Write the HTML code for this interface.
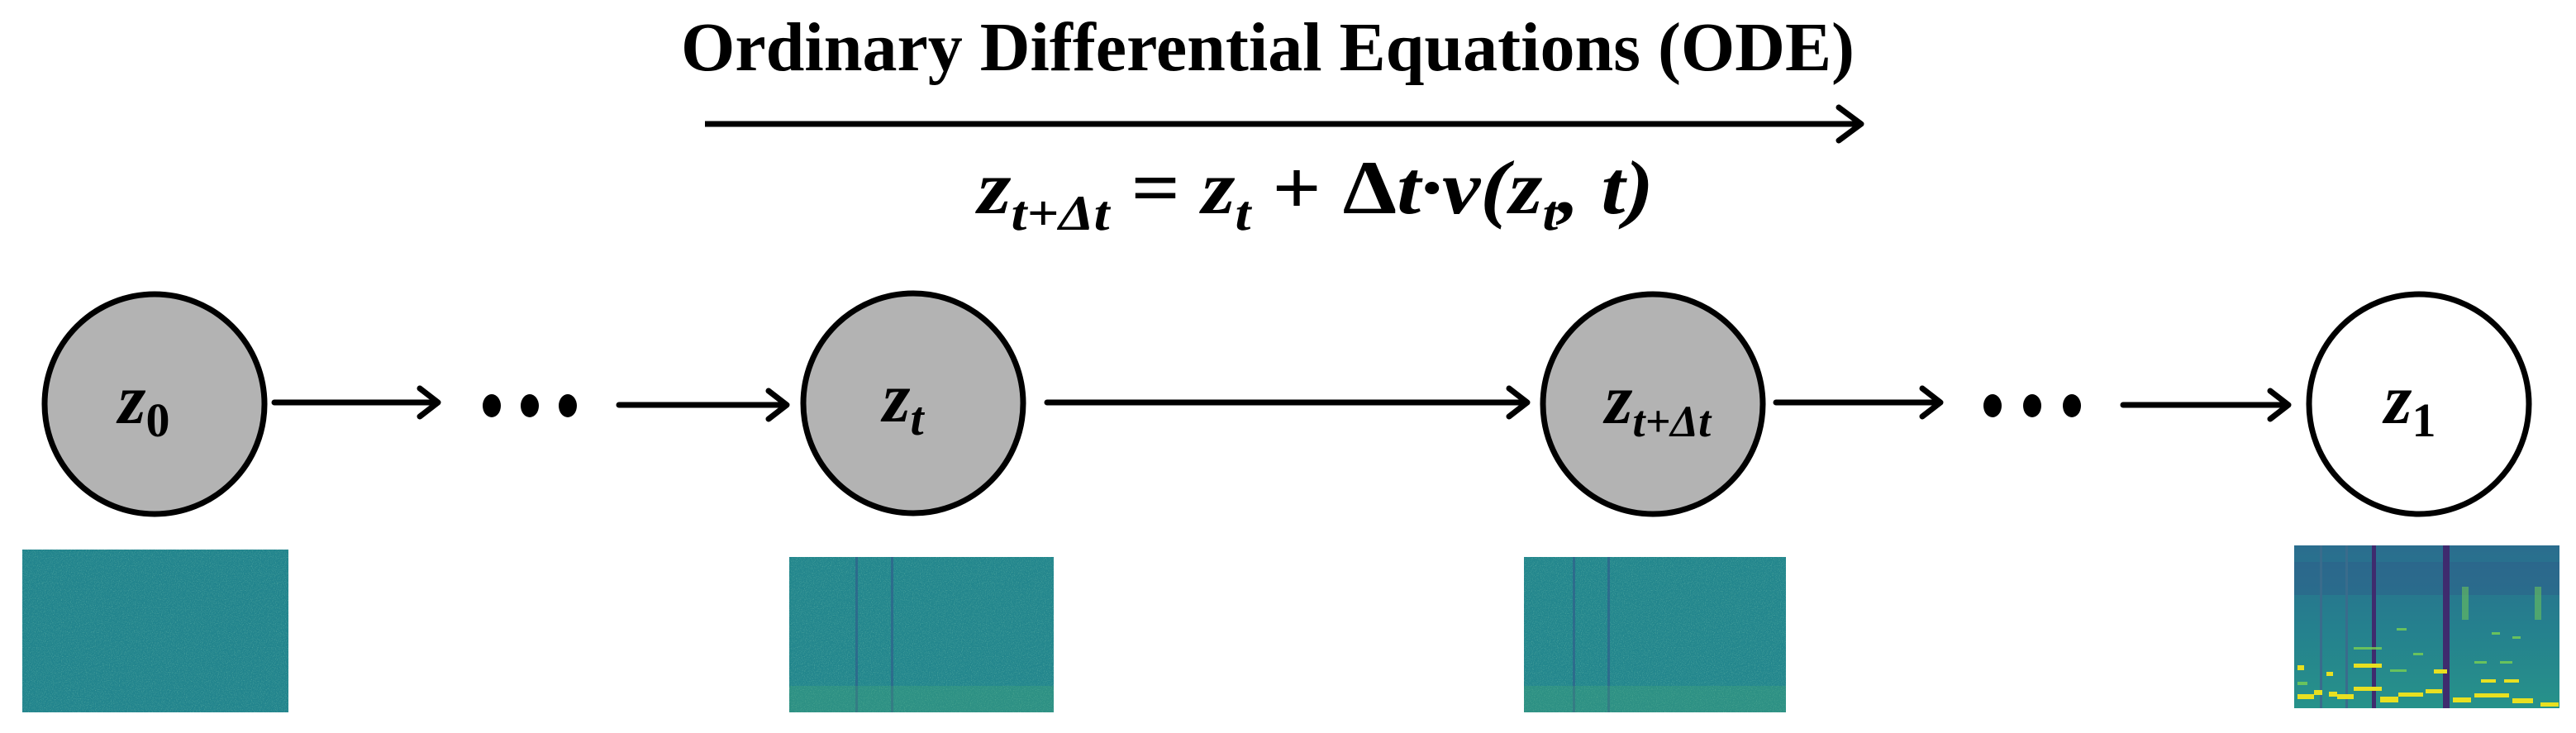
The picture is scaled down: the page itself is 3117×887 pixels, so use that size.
<!DOCTYPE html>
<html><head><meta charset="utf-8"><style>
html,body{margin:0;padding:0;background:#fff;}
svg{display:block}
</style></head><body>
<svg width="3117" height="887" viewBox="0 0 3117 887" xmlns="http://www.w3.org/2000/svg">
<defs>
<filter id="noise" x="0" y="0" width="100%" height="100%">
<feTurbulence type="fractalNoise" baseFrequency="0.9" numOctaves="2" seed="3" result="t"/>
<feColorMatrix type="matrix" values="0 0 0 0 0.45  0 0 0 0 0.85  0 0 0 0 0.55  1.4 0 0 0 -0.7" />
</filter>
<linearGradient id="g1" x1="0" y1="0" x2="0" y2="1">
<stop offset="0" stop-color="#2a6d8e"/><stop offset="0.5" stop-color="#25808e"/><stop offset="1" stop-color="#26928a"/>
</linearGradient>
</defs>

<!-- Title -->
<text x="1534" y="85" text-anchor="middle" font-family="Liberation Serif, serif" font-weight="bold" font-size="84" textLength="1420" lengthAdjust="spacingAndGlyphs">Ordinary Differential Equations (ODE)</text>
<!-- Top arrow -->
<line x1="853" y1="150" x2="2248" y2="150" stroke="#000" stroke-width="7"/>
<polyline points="2225,130 2252,150 2225,170" fill="none" stroke="#000" stroke-width="7" stroke-linecap="round" stroke-linejoin="round"/>
<!-- Equation -->
<text x="1183" y="258" font-family="Liberation Serif, serif" font-weight="bold" font-style="italic" font-size="92" textLength="818" lengthAdjust="spacingAndGlyphs">z<tspan font-size="60" dy="20">t+Δt</tspan><tspan dy="-20" font-style="normal"> = </tspan>z<tspan font-size="60" dy="20">t</tspan><tspan dy="-20" font-style="normal"> + Δ</tspan>t·v(z<tspan font-size="60" dy="20">t</tspan><tspan dy="-20">, t)</tspan></text>

<!-- Nodes -->
<circle cx="187" cy="489" r="133" fill="#b3b3b3" stroke="#000" stroke-width="7"/>
<circle cx="1105" cy="488" r="133" fill="#b3b3b3" stroke="#000" stroke-width="7"/>
<circle cx="2000" cy="489" r="133" fill="#b3b3b3" stroke="#000" stroke-width="7"/>
<circle cx="2927" cy="489" r="133" fill="#ffffff" stroke="#000" stroke-width="7"/>

<g font-family="Liberation Serif, serif" font-weight="bold" font-style="italic" font-size="86">
<text x="143" y="512">z<tspan font-size="58" dy="16" font-style="normal">0</tspan></text>
<text x="1068" y="510">z<tspan font-size="58" dy="16">t</tspan></text>
<text x="1942" y="512">z<tspan font-size="54" dy="16">t+Δt</tspan></text>
<text x="2885" y="512">z<tspan font-size="58" dy="16" font-style="normal">1</tspan></text>
</g>

<!-- Arrows in row -->
<g stroke="#000" stroke-width="7" fill="none" stroke-linecap="round" stroke-linejoin="round">
<line x1="332" y1="487" x2="528" y2="487"/><polyline points="508,470 530,487 508,504"/>
<line x1="749" y1="490" x2="950" y2="490"/><polyline points="930,473 952,490 930,507"/>
<line x1="1267" y1="487" x2="1846" y2="487"/><polyline points="1826,470 1848,487 1826,504"/>
<line x1="2149" y1="487" x2="2346" y2="487"/><polyline points="2326,470 2348,487 2326,504"/>
<line x1="2569" y1="490" x2="2767" y2="490"/><polyline points="2747,473 2769,490 2747,507"/>
</g>
<!-- Ellipsis dots -->
<g fill="#000">
<ellipse cx="595" cy="491" rx="11" ry="14"/><ellipse cx="641" cy="491" rx="11" ry="14"/><ellipse cx="687" cy="491" rx="11" ry="14"/>
<ellipse cx="2411" cy="491" rx="11" ry="14"/><ellipse cx="2459" cy="491" rx="11" ry="14"/><ellipse cx="2507" cy="491" rx="11" ry="14"/>
</g>

<!-- Spectrogram images -->
<rect x="27" y="665" width="322" height="197" fill="#22848d"/>
<rect x="27" y="665" width="322" height="197" filter="url(#noise)" opacity="0.6"/>

<rect x="955" y="674" width="320" height="188" fill="#23868d"/>
<rect x="955" y="674" width="320" height="188" filter="url(#noise)" opacity="0.6"/>
<rect x="1035" y="674" width="3" height="188" fill="#2f5f8c" opacity="0.7"/>
<rect x="1078" y="674" width="3" height="188" fill="#2f5f8c" opacity="0.7"/>
<rect x="955" y="830" width="320" height="32" fill="#4cae6a" opacity="0.25"/>

<rect x="1844" y="674" width="317" height="188" fill="#23868d"/>
<rect x="1844" y="674" width="317" height="188" filter="url(#noise)" opacity="0.6"/>
<rect x="1903" y="674" width="3" height="188" fill="#2f5f8c" opacity="0.7"/>
<rect x="1945" y="674" width="3" height="188" fill="#2f5f8c" opacity="0.7"/>
<rect x="1844" y="830" width="317" height="32" fill="#4cae6a" opacity="0.25"/>

<g>
<rect x="2776" y="660" width="321" height="197" fill="url(#g1)"/>
<rect x="2776" y="680" width="321" height="40" fill="#2f5a8a" opacity="0.4"/>
<rect x="2870" y="660" width="5" height="197" fill="#3f2b6e"/>
<rect x="2956" y="660" width="8" height="197" fill="#3f2b6e"/>
<rect x="2807" y="660" width="3" height="197" fill="#3a6c8c"/>
<rect x="2838" y="660" width="3" height="197" fill="#3a6c8c"/>
<rect x="2979" y="710" width="8" height="40" fill="#6bc25a" opacity="0.6"/>
<rect x="3067" y="710" width="8" height="40" fill="#6bc25a" opacity="0.6"/>
<g fill="#e8e021">
<rect x="2780" y="840" width="20" height="6"/><rect x="2800" y="835" width="10" height="6"/><rect x="2818" y="837" width="10" height="6"/>
<rect x="2828" y="840" width="20" height="6"/><rect x="2848" y="831" width="34" height="5"/><rect x="2848" y="803" width="34" height="5"/>
<rect x="2880" y="843" width="22" height="7" /><rect x="2902" y="838" width="30" height="5"/><rect x="2935" y="834" width="20" height="5"/>
<rect x="2945" y="810" width="16" height="5"/><rect x="2968" y="844" width="22" height="6"/><rect x="2994" y="839" width="42" height="5"/>
<rect x="3002" y="822" width="18" height="4"/><rect x="3030" y="822" width="18" height="4"/><rect x="3040" y="845" width="25" height="6"/>
<rect x="3074" y="850" width="22" height="5"/><rect x="2780" y="805" width="8" height="6"/><rect x="2815" y="813" width="8" height="5"/>
</g>
<g fill="#7ad151" opacity="0.8">
<rect x="2848" y="783" width="34" height="3"/><rect x="2892" y="810" width="20" height="3"/><rect x="2920" y="790" width="12" height="3"/>
<rect x="2994" y="800" width="15" height="3"/><rect x="3025" y="800" width="15" height="3"/><rect x="2900" y="760" width="12" height="3"/>
<rect x="3015" y="765" width="10" height="3"/><rect x="3040" y="770" width="10" height="3"/><rect x="2780" y="825" width="12" height="4"/>
</g>
</g>
</svg>
</body></html>
